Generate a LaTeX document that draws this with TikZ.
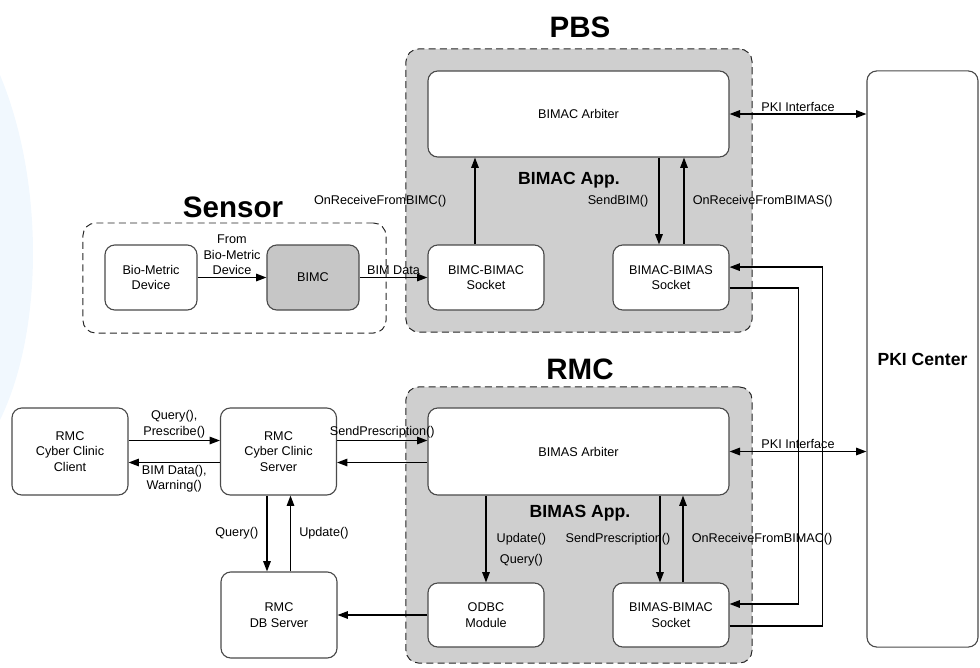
\documentclass[tikz,border=0pt]{standalone}
\usepackage{fontspec}
\setmainfont{Liberation Sans}
\usetikzlibrary{positioning,arrows.meta,calc}
\definecolor{edge}{HTML}{4A4A4A}
\definecolor{panel}{HTML}{CFCFCF}
\definecolor{chip}{HTML}{C6C6C6}
\definecolor{swirl}{HTML}{F1F8FE}

\begin{document}
\begin{tikzpicture}[
  x=0.025cm, y=-0.025cm,
  font=\fontsize{9}{11}\selectfont,
  box/.style={draw=edge, rounded corners=7pt, align=center, fill=white, line width=0.8pt, inner sep=2pt},
  group/.style={draw=black!85, dash pattern=on 5pt off 3pt, rounded corners=9pt, line width=0.7pt},
  title/.style={font=\fontsize{21}{24}\selectfont\bfseries},
  apptitle/.style={font=\fontsize{12.5}{14}\selectfont\bfseries},
  arrow/.style={-{Triangle[length=2.6mm,width=1.9mm]}, line width=0.9pt},
  twoway/.style={{Triangle[length=2.6mm,width=1.9mm]}-{Triangle[length=2.6mm,width=1.9mm]}, line width=0.9pt},
  lbl/.style={inner sep=1.5pt}
]
\useasboundingbox (0,0) rectangle (980,667);
\fill[swirl] (0,75) .. controls (44,180) and (44,330) .. (0,420) -- cycle;

% containers
\node[group, fill=panel, minimum width=8.65cm, minimum height=7.075cm] (pbs) at (579,190.5) {};
\node[group, minimum width=7.575cm, minimum height=2.75cm] (sensor) at (234.5,278) {};
\node[group, fill=panel, minimum width=8.65cm, minimum height=6.9cm] (rmc) at (579,525) {};
\node[title] (pbstitle) at (580,27) {PBS};
\node[title] (sensortitle) at (233,207) {Sensor};
\node[title] (rmctitle) at (580,369) {RMC};
\node[apptitle] (bimacapp) at (569,180) {BIMAC App.};
\node[apptitle] (bimasapp) at (580,513) {BIMAS App.};

% boxes
\node[box, minimum width=2.3cm, minimum height=1.625cm] (bio) at (151,277.5) {Bio-Metric\\Device};
\node[box, fill=chip, minimum width=2.3cm, minimum height=1.625cm] (bimc) at (313,277.5) {BIMC};
\node[box, minimum width=7.525cm, minimum height=2.15cm] (arbC) at (578.5,114) {BIMAC Arbiter};
\node[box, minimum width=2.9cm, minimum height=1.625cm] (sockC) at (486,277.5) {BIMC-BIMAC\\Socket};
\node[box, minimum width=2.9cm, minimum height=1.625cm] (sockAS) at (671,277.5) {BIMAC-BIMAS\\Socket};
\node[box, minimum width=7.525cm, minimum height=2.175cm] (arbS) at (578.5,451.5) {BIMAS Arbiter};
\node[box, minimum width=2.9cm, minimum height=1.6cm] (odbc) at (486,615) {ODBC\\Module};
\node[box, minimum width=2.9cm, minimum height=1.6cm] (sockSA) at (671,615) {BIMAS-BIMAC\\Socket};
\node[box, minimum width=2.9cm, minimum height=2.175cm] (client) at (70,451.5) {RMC\\Cyber Clinic\\Client};
\node[box, minimum width=2.9cm, minimum height=2.175cm] (server) at (278.5,451.5) {RMC\\Cyber Clinic\\Server};
\node[box, minimum width=2.9cm, minimum height=2.15cm] (db) at (279,615) {RMC\\DB Server};
\node[box, minimum width=2.775cm, minimum height=14.4cm, font=\fontsize{12.5}{14}\selectfont\bfseries] (pki) at (922.5,359) {PKI Center};

% sensor side
\draw[arrow] (bio) -- node[lbl, above, align=center] {From\\Bio-Metric\\Device} (bimc);
\draw[arrow] (bimc) -- node[lbl, above] {BIM Data} (sockC);

% PBS inside
\draw[arrow] ([xshift=-0.275cm]sockC.north) -- ([xshift=-0.275cm]sockC.north |- arbC.south)
  node[lbl, pos=0.5, left=0.65cm] {OnReceiveFromBIMC()};
\draw[arrow] ([xshift=-0.3cm]arbC.south -| sockAS.north) -- ([xshift=-0.3cm]sockAS.north)
  node[lbl, pos=0.5, left=0.2cm] {SendBIM()};
\draw[arrow] ([xshift=0.325cm]sockAS.north) -- ([xshift=0.325cm]sockAS.north |- arbC.south)
  node[lbl, pos=0.5, right=0.15cm] {OnReceiveFromBIMAS()};

% RMC inside
\draw[arrow] (arbS.south -| odbc.north) -- (odbc.north)
  node[lbl, pos=0.5, right=0.2cm] {Update()}
  node[lbl, pos=0.75, right=0.28cm] {Query()};
\draw[arrow] ([xshift=-0.275cm]arbS.south -| sockSA.north) -- ([xshift=-0.275cm]sockSA.north)
  node[lbl, pos=0.5, xshift=-1.05cm] {SendPrescription()};
\draw[arrow] ([xshift=0.3cm]sockSA.north) -- ([xshift=0.3cm]sockSA.north |- arbS.south)
  node[lbl, pos=0.5, right=0.15cm] {OnReceiveFromBIMAC()};
\draw[arrow] (odbc) -- (db);

% clinic side
\draw[arrow] ([yshift=0.275cm]client.east) -- ([yshift=0.275cm]client.east -| server.west)
  node[lbl, midway, above, align=center] {Query(),\\Prescribe()};
\draw[arrow] ([yshift=-0.275cm]server.west) -- ([yshift=-0.275cm]server.west -| client.east)
  node[lbl, midway, below, align=center] {BIM Data(),\\Warning()};
\draw[arrow] ([yshift=0.275cm]server.east) -- ([yshift=0.275cm]server.east -| arbS.west)
  node[lbl, midway, above] {SendPrescription()};
\draw[arrow] ([yshift=-0.275cm]arbS.west) -- ([yshift=-0.275cm]arbS.west -| server.east);
\draw[arrow] ([xshift=-0.2875cm]server.south) -- ([xshift=-0.2875cm]server.south |- db.north)
  node[lbl, midway, left=0.15cm] {Query()};
\draw[arrow] ([xshift=0.2875cm]db.north) -- ([xshift=0.2875cm]db.north |- server.south)
  node[lbl, midway, right=0.15cm] {Update()};

% PKI links
\draw[twoway] (arbC.east) -- (arbC.east -| pki.west) node[lbl, midway, above] {PKI Interface};
\draw[twoway] (arbS.east) -- (arbS.east -| pki.west) node[lbl, midway, above] {PKI Interface};

% socket to socket
\draw[arrow] ([yshift=-0.26cm]sockAS.east) -- ++(69,0) |- ([yshift=0.275cm]sockSA.east);
\draw[arrow] ([yshift=-0.275cm]sockSA.east) -- ++(93,0) |- ([yshift=0.26cm]sockAS.east);
\end{tikzpicture}
\end{document}
